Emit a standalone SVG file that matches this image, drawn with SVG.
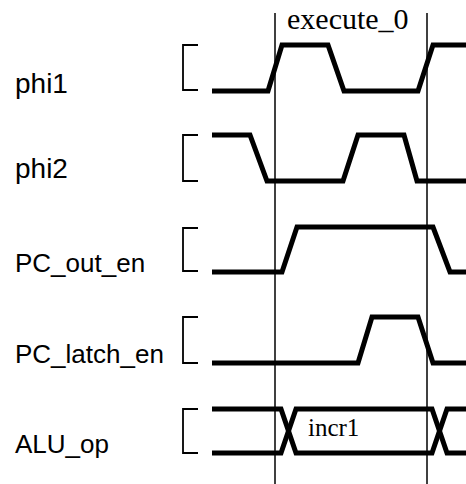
<svg xmlns="http://www.w3.org/2000/svg" width="466" height="484" viewBox="0 0 466 484">
<style>
.wave{fill:none;stroke:#000;stroke-width:5;stroke-linejoin:miter;stroke-linecap:butt}
.brk{fill:none;stroke:#000;stroke-width:1.8}
.vl{stroke:#000;stroke-width:1.5}
.lbl{font-family:"Liberation Sans",Arial,sans-serif;fill:#000}
.ser{font-family:"Liberation Serif","Times New Roman",serif;fill:#000}
</style>
<rect width="466" height="484" fill="#fff"/>
<g id="markers">
<line class="vl" x1="275" y1="13" x2="275" y2="484"/>
<line class="vl" x1="427" y1="13" x2="427" y2="484"/>
<text class="ser" x="287" y="29" font-size="30">execute_0</text>
</g>
<g id="phi1">
<text class="lbl" x="15" y="93" font-size="28">phi1</text>
<path class="brk" d="M198,45H183V90H198"/>
<polyline class="wave" points="212,91 268,91 282,45 328,45 344,91 418,91 433,45 466,45"/>
</g>
<g id="phi2">
<text class="lbl" x="15" y="178" font-size="28">phi2</text>
<path class="brk" d="M198,135H183V181H198"/>
<polyline class="wave" points="212,135 250,135 267,181 343,181 358,135 404,135 417,181 466,181"/>
</g>
<g id="PC_out_en">
<text class="lbl" x="15" y="272" font-size="26">PC_out_en</text>
<path class="brk" d="M198,228H183V271H198"/>
<polyline class="wave" points="212,272 282,272 297,227 433,227 450,272 466,272"/>
</g>
<g id="PC_latch_en">
<text class="lbl" x="15" y="363" font-size="26">PC_latch_en</text>
<path class="brk" d="M198,317H183V363H198"/>
<polyline class="wave" points="212,363 358,363 372,317 418,317 433,363 466,363"/>
</g>
<g id="ALU_op">
<text class="lbl" x="15" y="453" font-size="26">ALU_op</text>
<path class="brk" d="M198,409H183V453H198"/>
<polyline class="wave" points="212,409 281,409 296,453 432,453 447,409 466,409"/>
<polyline class="wave" points="212,453 281,453 296,409 432,409 447,453 466,453"/>
<text class="ser" x="308" y="436" font-size="25">incr1</text>
</g>
</svg>
